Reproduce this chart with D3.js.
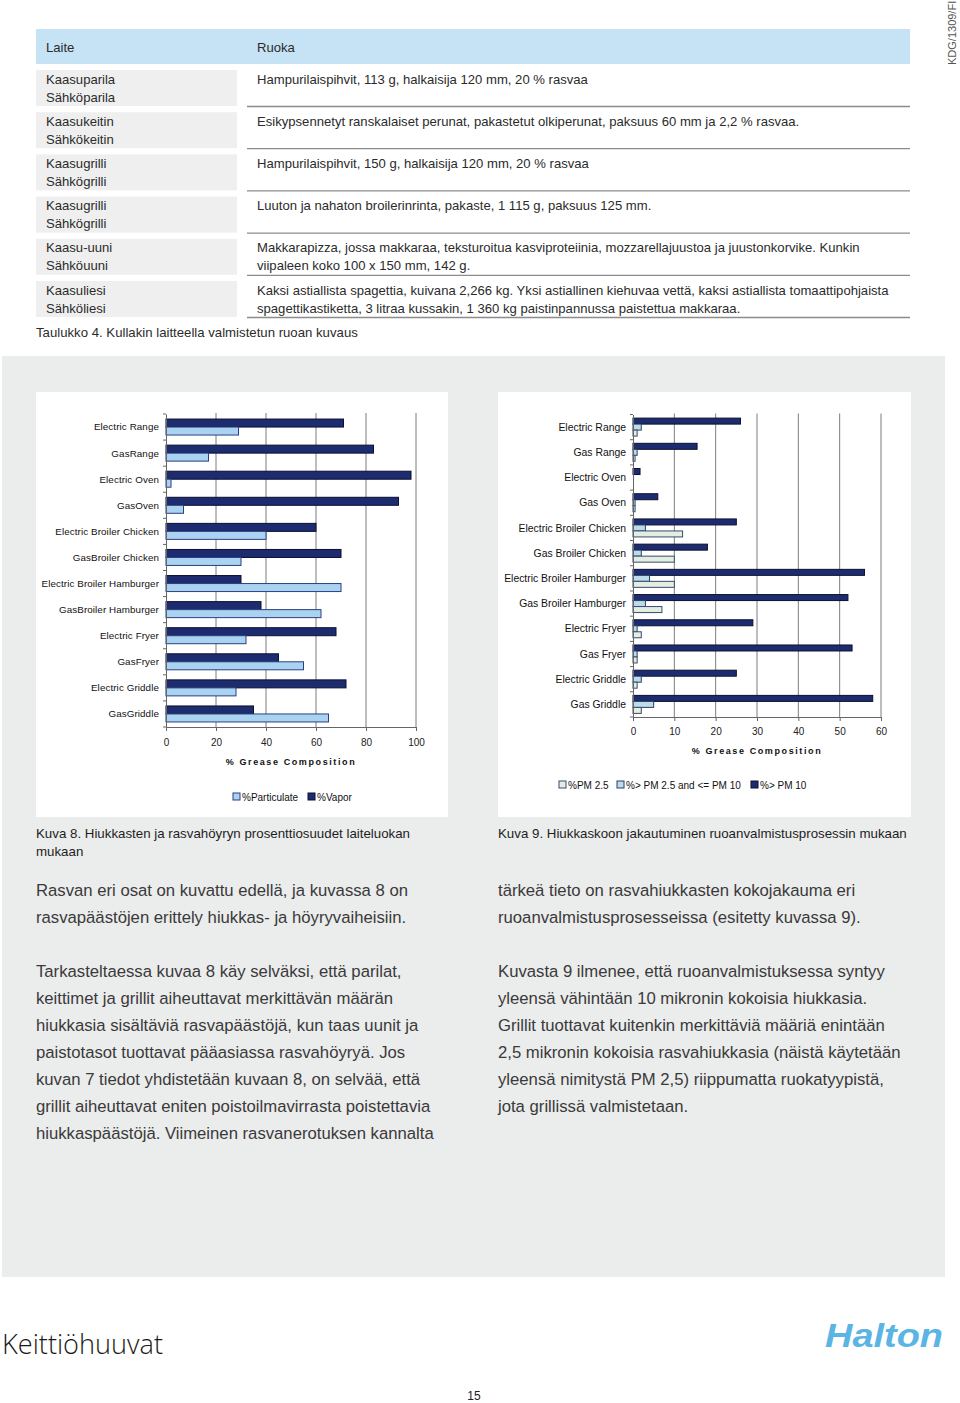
<!DOCTYPE html>
<html><head><meta charset="utf-8">
<script src="https://cdn.jsdelivr.net/npm/d3@7"></script>
<style>
body{margin:0;background:#fff;}
svg{display:block;font-family:"Liberation Sans",Arial,Helvetica,sans-serif;}
</style></head>
<body><svg id="c" width="960" height="1403"></svg>
<script>
// ---------- DATA ----------
const tableHeader = ["Laite", "Ruoka"];
const tableDevices = [
  ["Kaasuparila", "Sähköparila"],
  ["Kaasukeitin", "Sähkökeitin"],
  ["Kaasugrilli", "Sähkögrilli"],
  ["Kaasugrilli", "Sähkögrilli"],
  ["Kaasu-uuni", "Sähköuuni"],
  ["Kaasuliesi", "Sähköliesi"]
];
const tableFoods = [
  ["Hampurilaispihvit, 113 g, halkaisija 120 mm, 20 % rasvaa"],
  ["Esikypsennetyt ranskalaiset perunat, pakastetut olkiperunat, paksuus 60 mm ja 2,2 % rasvaa."],
  ["Hampurilaispihvit, 150 g, halkaisija 120 mm, 20 % rasvaa"],
  ["Luuton ja nahaton broilerinrinta, pakaste, 1 115 g, paksuus 125 mm."],
  ["Makkarapizza, jossa makkaraa, teksturoitua kasviproteiinia, mozzarellajuustoa ja juustonkorvike. Kunkin", "viipaleen koko 100 x 150 mm, 142 g."],
  ["Kaksi astiallista spagettia, kuivana 2,266 kg. Yksi astiallinen kiehuvaa vettä, kaksi astiallista tomaattipohjaista", "spagettikastiketta, 3 litraa kussakin, 1 360 kg paistinpannussa paistettua makkaraa."]
];
const tableCaption = "Taulukko 4. Kullakin laitteella valmistetun ruoan kuvaus";

const cats1 = ["Electric Range","Gas Range","Electric Oven","Gas Oven","Electric Broiler Chicken","Gas Broiler Chicken","Electric Broiler Hamburger","Gas Broiler Hamburger","Electric Fryer","Gas Fryer","Electric Griddle","Gas Griddle"];
const vapor       = [71, 83, 98, 93, 60, 70, 30, 38, 68, 45, 72, 35];
const particulate = [29, 17,  2,  7, 40, 30, 70, 62, 32, 55, 28, 65];
const ticks1 = [0, 20, 40, 60, 80, 100];

const cats2 = cats1;
const pm10      = [26, 15.5, 1.7, 6, 25, 18, 56, 52, 29, 53, 25, 58];
const pm25to10  = [2, 1, 0, 0.5, 3, 2, 4, 3, 1, 1, 2, 5];
const pm25      = [1, 0.5, 0, 0.5, 12, 10, 10, 7, 2, 1, 1, 2];
const ticks2 = [0, 10, 20, 30, 40, 50, 60];

const axisTitle = "% Grease Composition";
const legend1 = ["%Particulate", "%Vapor"];
const legend2 = ["%PM 2.5", "%> PM 2.5 and <= PM 10", "%> PM 10"];
const caption8 = ["Kuva 8. Hiukkasten ja rasvahöyryn prosenttiosuudet laiteluokan", "mukaan"];
const caption9 = ["Kuva 9. Hiukkaskoon jakautuminen ruoanvalmistusprosessin mukaan"];
const bodyLeft1 = ["Rasvan eri osat on kuvattu edellä, ja kuvassa 8 on", "rasvapäästöjen erittely hiukkas- ja höyryvaiheisiin."];
const bodyRight1 = ["tärkeä tieto on rasvahiukkasten kokojakauma eri", "ruoanvalmistusprosesseissa (esitetty kuvassa 9)."];
const bodyLeft2 = ["Tarkasteltaessa kuvaa 8 käy selväksi, että parilat,", "keittimet ja grillit aiheuttavat merkittävän määrän", "hiukkasia sisältäviä rasvapäästöjä, kun taas uunit ja", "paistotasot tuottavat pääasiassa rasvahöyryä. Jos", "kuvan 7 tiedot yhdistetään kuvaan 8, on selvää, että", "grillit aiheuttavat eniten poistoilmavirrasta poistettavia", "hiukkaspäästöjä. Viimeinen rasvanerotuksen kannalta"];
const bodyRight2 = ["Kuvasta 9 ilmenee, että ruoanvalmistuksessa syntyy", "yleensä vähintään 10 mikronin kokoisia hiukkasia.", "Grillit tuottavat kuitenkin merkittäviä määriä enintään", "2,5 mikronin kokoisia rasvahiukkasia (näistä käytetään", "yleensä nimitystä PM 2,5) riippumatta ruokatyypistä,", "jota grillissä valmistetaan."];

// ---------- DRAW ----------
const svg = d3.select("#c");
const txt = "#2b2b2b";
const tfs = 13.1;

// side code
svg.append("text").attr("transform","translate(956,65) rotate(-90)")
  .attr("font-size",11).attr("fill","#555").text("KDG/1309/FI");

// table
svg.append("rect").attr("x",36).attr("y",29).attr("width",874).attr("height",35).attr("fill","#c6e2f5");
svg.append("text").attr("x",46).attr("y",51.5).attr("font-size",tfs).attr("fill",txt).text(tableHeader[0]);
svg.append("text").attr("x",257).attr("y",51.5).attr("font-size",tfs).attr("fill",txt).text(tableHeader[1]);
const rowPitch = 42.2;
tableDevices.forEach((d,i)=>{
  const y0 = 70 + i*rowPitch;
  svg.append("rect").attr("x",36).attr("y",y0).attr("width",201).attr("height",36).attr("fill","#efefef");
  svg.append("line").attr("x1",247).attr("x2",910).attr("y1",y0+36.5).attr("y2",y0+36.5).attr("stroke","#8c8c8c").attr("stroke-width",1.3);
  d.forEach((t,j)=>svg.append("text").attr("x",46).attr("y",y0+13.5+j*18).attr("font-size",tfs).attr("fill",txt).text(t));
  tableFoods[i].forEach((t,j)=>svg.append("text").attr("x",257).attr("y",y0+13.5+j*18).attr("font-size",tfs).attr("fill",txt).text(t));
});
svg.append("text").attr("x",36).attr("y",337).attr("font-size",13.2).attr("fill",txt).text(tableCaption);

// gray panel
svg.append("rect").attr("x",2).attr("y",356).attr("width",943).attr("height",921).attr("fill","#ebecec");
svg.append("rect").attr("x",36).attr("y",392).attr("width",412).attr("height",425).attr("fill","#fff");
svg.append("rect").attr("x",498).attr("y",392).attr("width",413).attr("height",425).attr("fill","#fff");

const navy = "#1d2c6f", navyStroke = "#0b1030";
const lightBlue = "#a9d3f1", midBlue = "#bcdcec", paleGreen = "#e2efe0";

function drawChart(opt){
  const g = svg.append("g");
  const x = d3.scaleLinear().domain(opt.domain).range(opt.xr);
  const y = d3.scaleBand().domain(opt.cats).range(opt.yr);
  // gridlines
  g.selectAll(".grid").data(opt.ticks.slice(1)).join("line")
    .attr("x1",d=>x(d)).attr("x2",d=>x(d)).attr("y1",opt.yr[0]-1).attr("y2",opt.yr[1])
    .attr("stroke","#7d7d7d").attr("stroke-width",1);
  // bars
  opt.series.forEach((s,k)=>{
    g.selectAll(null).data(opt.cats).join("rect")
      .attr("x",x(0)).attr("width",(d,i)=>Math.max(0,x(s.values[i])-x(0)))
      .attr("y",d=>y(d)+y.bandwidth()/2 + opt.offsets[k]).attr("height",opt.bh)
      .attr("fill",s.fill).attr("stroke",s.stroke).attr("stroke-width",1)
      .attr("display",(d,i)=>s.values[i]>0?null:"none");
  });
  // x axis
  const xa = g.append("g").attr("transform",`translate(0,${opt.yr[1]})`)
    .call(d3.axisBottom(x).tickValues(opt.ticks).tickSize(4).tickSizeOuter(0));
  xa.select(".domain").attr("stroke","#666");
  xa.selectAll(".tick line").attr("stroke","#666");
  xa.selectAll("text").attr("font-size",10).attr("fill","#222").attr("dy",opt.tickDy).attr("font-family","Liberation Sans,Arial,sans-serif");
  // y axis
  const ya = g.append("g").attr("transform",`translate(${opt.xr[0]},0)`)
    .call(d3.axisLeft(y).tickSize(0).tickPadding(7).tickFormat(opt.labelFmt));
  ya.select(".domain").attr("stroke","#666");
  ya.selectAll("text").attr("font-size",opt.labelSize).attr("fill","#111")
    .attr("font-family","Liberation Sans,Arial,sans-serif").attr("letter-spacing",opt.letterSpacing)
    .attr("dy","0.35em");
  // band boundary ticks
  g.selectAll(null).data(d3.range(opt.cats.length+1)).join("line")
    .attr("x1",opt.xr[0]-3).attr("x2",opt.xr[0])
    .attr("y1",i=>opt.yr[0]+i*y.step()).attr("y2",i=>opt.yr[0]+i*y.step())
    .attr("stroke","#666");
  // title
  g.append("text").attr("x",(opt.xr[0]+opt.xr[1])/2).attr("y",opt.titleY)
    .attr("text-anchor","middle").attr("font-size",9).attr("font-weight","bold")
    .attr("letter-spacing","1.6px").attr("fill","#111").text(axisTitle);
  // legend
  opt.legend.forEach((l,k)=>{
    g.append("rect").attr("x",l.x).attr("y",opt.legendY-4).attr("width",7).attr("height",7)
      .attr("fill",l.fill).attr("stroke",l.stroke);
    g.append("text").attr("x",l.x+9).attr("y",opt.legendY+3.5).attr("font-size",10).attr("fill","#111")
      .text(l.label);
  });
}

drawChart({
  domain:[0,100], xr:[166,416], yr:[414,727], cats:cats1, ticks:ticks1,
  bh:8, offsets:[-8,0], labelSize:9.8, letterSpacing:"0.1px", tickDy:"1.15em",
  labelFmt:d=>d.replace("Gas ","Gas"),
  series:[{values:vapor,fill:navy,stroke:navyStroke},{values:particulate,fill:lightBlue,stroke:"#2c3f80"}],
  titleY:765, legendY:797,
  legend:[{x:233,label:legend1[0],fill:lightBlue,stroke:"#2c3f80"},{x:308,label:legend1[1],fill:navy,stroke:navyStroke}]
});

drawChart({
  domain:[0,60], xr:[633,881], yr:[414.5,717], cats:cats2, ticks:ticks2,
  bh:6, offsets:[-9,-3,3], labelSize:10.4, letterSpacing:"0px", tickDy:"1.05em",
  labelFmt:d=>d,
  series:[{values:pm10,fill:navy,stroke:navyStroke},{values:pm25to10,fill:midBlue,stroke:"#2c3f60"},{values:pm25,fill:paleGreen,stroke:"#3a4a70"}],
  titleY:754, legendY:785,
  legend:[{x:559,label:legend2[0],fill:paleGreen,stroke:"#3a4a70"},{x:617,label:legend2[1],fill:midBlue,stroke:"#2c3f60"},{x:751,label:legend2[2],fill:navy,stroke:navyStroke}]
});

// captions
caption8.forEach((t,j)=>svg.append("text").attr("x",36).attr("y",838+j*18).attr("font-size",13.3).attr("fill","#1e1e1e").text(t));
caption9.forEach((t,j)=>svg.append("text").attr("x",498).attr("y",838+j*18).attr("font-size",13.3).attr("fill","#1e1e1e").text(t));

function para(lines,x,y0){
  lines.forEach((t,j)=>svg.append("text").attr("x",x).attr("y",y0+j*27).attr("font-size",16.7)
    .attr("fill","#3a3a3a").attr("font-weight",300).text(t));
}
para(bodyLeft1,36,896);
para(bodyRight1,498,896);
para(bodyLeft2,36,977);
para(bodyRight2,498,977);

// footer
svg.append("text").attr("x",2).attr("y",1354).attr("font-size",27).attr("font-weight",300)
  .attr("font-family","'Open Sans',Lato,'Liberation Sans',sans-serif")
  .attr("textLength",161).attr("lengthAdjust","spacingAndGlyphs").attr("fill","#1a1a1a").text("Keittiöhuuvat");
svg.append("text").attr("x",825).attr("y",1347).attr("font-size",34).attr("font-weight","bold").attr("font-style","italic")
  .attr("fill","#5ab4e4").attr("textLength",118).attr("lengthAdjust","spacingAndGlyphs").text("Halton");
svg.append("text").attr("x",474).attr("y",1400).attr("text-anchor","middle").attr("font-size",12).attr("fill","#222").text("15");
</script></body></html>
